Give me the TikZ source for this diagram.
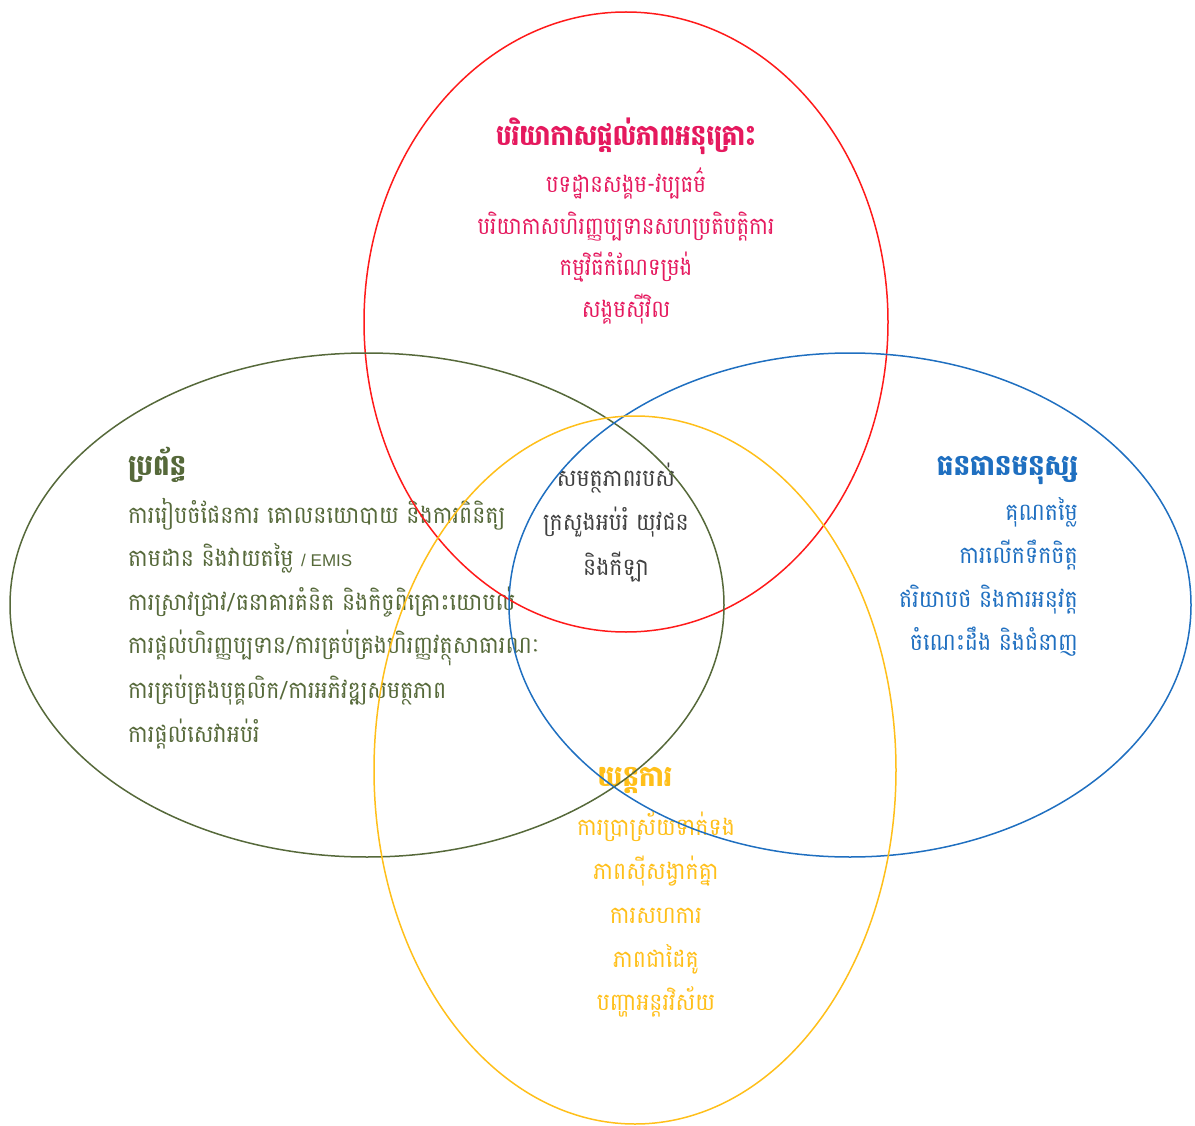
\documentclass[tikz,border=0pt]{standalone}
\usepackage{fontspec}
\newfontfamily\kh[Script=Khmer,FakeStretch=0.92]{Battambang}
\newfontfamily\khh[Script=Khmer,FakeStretch=0.9]{Battambang}
\setsansfont{Liberation Sans}
\definecolor{cred}{HTML}{FF1A1A}
\definecolor{credtxt}{HTML}{E5195E}
\definecolor{cgreen}{HTML}{56693A}
\definecolor{cblue}{HTML}{1F6FC0}
\definecolor{cyellow}{HTML}{FFBF1A}
\definecolor{cgray}{HTML}{404040}
\begin{document}
\begin{tikzpicture}[x=1pt,y=-1pt,
  ring/.style={line width=1.5pt},
  body/.style={inner sep=0pt,anchor=base,font=\kh\fontsize{24}{28}\selectfont},
  head/.style={inner sep=0pt,anchor=base,font=\khh\bfseries\fontsize{29}{33}\selectfont}]
\useasboundingbox (0,0) rectangle (1195,1126);
% red texts
\node[head,text=credtxt,xscale=0.94] (r0) at (626,146) {បរិយាកាសផ្តល់ភាពអនុគ្រោះ};
\node[body,text=credtxt,xscale=0.96] (r1) at (626,193) {បទដ្ឋានសង្គម-វប្បធម៌};
\node[body,text=credtxt,xscale=0.96] (r2) at (626,235) {បរិយាកាសហិរញ្ញប្បទានសហប្រតិបត្តិការ};
\node[body,text=credtxt,xscale=0.96] (r3) at (626,276) {កម្មវិធីកំណែទម្រង់};
\node[body,text=credtxt,xscale=0.96] (r4) at (626,317) {សង្គមស៊ីវិល};
% green texts
\node[head,text=cgreen,anchor=base west] (g0) at (128,475) {ប្រព័ន្ធ};
\node[body,text=cgreen,anchor=base west] (g1) at (128,523) {ការរៀបចំផែនការ គោលនយោបាយ និងការពិនិត្យ};
\node[body,text=cgreen,anchor=base west] (g2) at (128,566) {តាមដាន និងវាយតម្លៃ {\sffamily\fontsize{17}{20}\selectfont / EMIS}};
\node[body,text=cgreen,anchor=base west] (g3) at (128,610) {ការស្រាវជ្រាវ/ធនាគារគំនិត និងកិច្ចពិគ្រោះយោបល់};
\node[body,text=cgreen,anchor=base west] (g4) at (128,653) {ការផ្តល់ហិរញ្ញប្បទាន/ការគ្រប់គ្រងហិរញ្ញវត្ថុសាធារណៈ};
\node[body,text=cgreen,anchor=base west] (g5) at (128,698) {ការគ្រប់គ្រងបុគ្គលិក/ការអភិវឌ្ឍសមត្ថភាព};
\node[body,text=cgreen,anchor=base west] (g6) at (128,742) {ការផ្តល់សេវាអប់រំ};
% blue texts
\node[head,text=cblue,anchor=base east] (b0) at (1078,475) {ធនធានមនុស្ស};
\node[body,text=cblue,anchor=base east] (b1) at (1078,520) {គុណតម្លៃ};
\node[body,text=cblue,anchor=base east] (b2) at (1078,563) {ការលើកទឹកចិត្ត};
\node[body,text=cblue,anchor=base east] (b3) at (1078,607) {ឥរិយាបថ និងការអនុវត្ត};
\node[body,text=cblue,anchor=base east] (b4) at (1078,650) {ចំណេះដឹង និងជំនាញ};
% centre
\node[body,text=cgray] (c1) at (616,486) {សមត្ថភាពរបស់};
\node[body,text=cgray] (c2) at (616,530) {ក្រសួងអប់រំ យុវជន};
\node[body,text=cgray] (c3) at (616,575) {និងកីឡា};
% yellow texts
\node[head,text=cyellow] (y0) at (635,786) {យន្តការ};
\node[body,text=cyellow] (y1) at (656,835) {ការប្រាស្រ័យទាក់ទង};
\node[body,text=cyellow] (y2) at (656,879) {ភាពស៊ីសង្វាក់គ្នា};
\node[body,text=cyellow] (y3) at (656,923) {ការសហការ};
\node[body,text=cyellow] (y4) at (656,967) {ភាពជាដៃគូ};
\node[body,text=cyellow] (y5) at (656,1010) {បញ្ហាអន្តរវិស័យ};
% ellipses
\draw[ring,cred] (626,322) ellipse [x radius=262,y radius=310];
\draw[ring,cgreen] (367,605) ellipse [x radius=357,y radius=252];
\draw[ring,cblue] (850,605) ellipse [x radius=341,y radius=252];
\draw[ring,cyellow] (635,770) ellipse [x radius=261,y radius=354];
\end{tikzpicture}
\end{document}
